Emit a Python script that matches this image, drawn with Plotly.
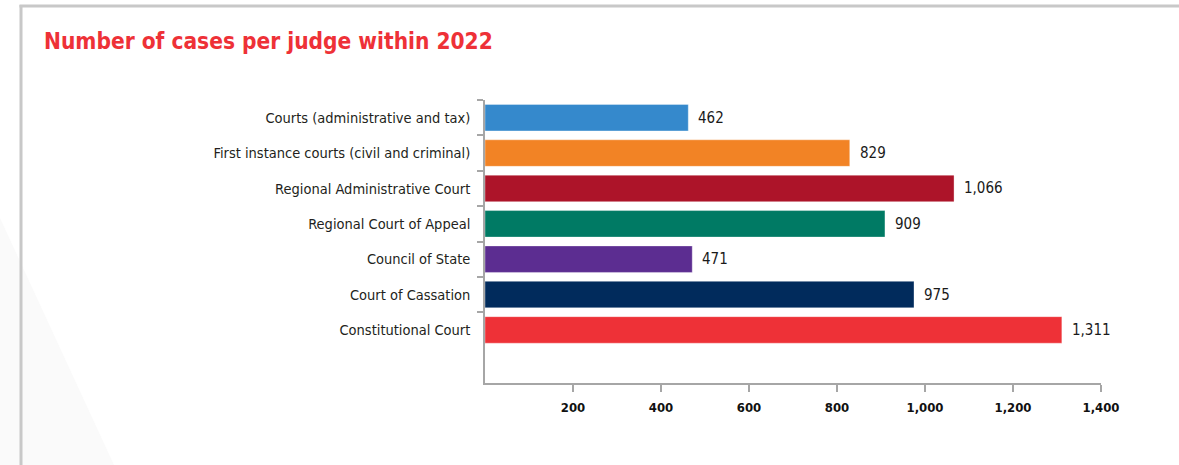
import plotly.graph_objects as go

categories = [
    "Courts (administrative and tax)",
    "First instance courts (civil and criminal)",
    "Regional Administrative Court",
    "Regional Court of Appeal",
    "Council of State",
    "Court of Cassation",
    "Constitutional Court",
]
values = [462, 829, 1066, 909, 471, 975, 1311]
colors = ["#3589CC", "#F28325", "#AD1429", "#007A64", "#5C2D91", "#012B5C", "#EE3137"]
x_ticks = [200, 400, 600, 800, 1000, 1200, 1400]
x_ticktext = ["200", "400", "600", "800", "1,000", "1,200", "1,400"]

FONT = "Liberation Sans Narrow, Arial Narrow, DejaVu Sans Condensed, Roboto Condensed, sans-serif"

W, H = 1179, 465
L, R, T, B = 485, 78, 100, 82
pw, ph = W - L - R, H - T - B


def px(x):
    return (x - L) / pw


def py(y):
    return (H - B - y) / ph


fig = go.Figure()
fig.add_trace(go.Bar(
    y=categories,
    x=values,
    orientation="h",
    marker=dict(color=colors, line=dict(color="rgba(255,255,255,0.35)", width=1)),
    width=0.75,
    hoverinfo="x+y",
))

annotations = []
for c, v in zip(categories, values):
    annotations.append(dict(
        x=v, y=c, xref="x", yref="y", text=f"{v:,}", showarrow=False,
        xanchor="left", xshift=8, yanchor="middle",
        font=dict(family=FONT, size=15, color="#1a1a1a"),
    ))

shapes = [
    # faint background triangle
    dict(type="path", xref="paper", yref="paper",
         path=f"M {px(0)} {py(218)} L {px(0)} {py(465)} L {px(114)} {py(465)} Z",
         fillcolor="#fafafa", line=dict(width=0), layer="below"),
    # frame top
    dict(type="line", xref="paper", yref="paper",
         x0=px(19.5), x1=px(1179), y0=py(6), y1=py(6),
         line=dict(color="#c8c8c8", width=3)),
    # frame left
    dict(type="line", xref="paper", yref="paper",
         x0=px(21), x1=px(21), y0=py(5), y1=py(465),
         line=dict(color="#c8c8c8", width=3)),
]

fig.update_layout(
    width=W, height=H,
    margin=dict(l=L, r=R, t=T, b=B, pad=0),
    paper_bgcolor="white", plot_bgcolor="white",
    showlegend=False,
    title=dict(
        text="<b>Number of cases per judge within 2022</b>",
        font=dict(family=FONT, size=22.5, color="#EE3137"),
        xref="container", yref="container",
        x=44 / W, xanchor="left", y=1 - 33 / H, yanchor="top",
    ),
    xaxis=dict(
        range=[0, 1400], tickvals=x_ticks, ticktext=x_ticktext,
        showgrid=False, zeroline=False,
        showline=True, linecolor="#a6a6a6", linewidth=1.5,
        ticks="outside", ticklen=7, tickcolor="#a6a6a6", tickwidth=1.5,
        tickfont=dict(family=FONT, size=13, color="#111111", weight="bold"),
        ticklabelstandoff=5,
    ),
    yaxis=dict(
        type="category", categoryorder="array", categoryarray=categories,
        range=[7.5, -0.5],
        showgrid=False, zeroline=False,
        showline=True, linecolor="#a6a6a6", linewidth=1.5,
        ticks="outside", tickson="boundaries", ticklen=6,
        tickcolor="#a6a6a6", tickwidth=1.5,
        tickfont=dict(family=FONT, size=14.5, color="#231F20"),
        ticklabelstandoff=10,
    ),
    annotations=annotations,
    shapes=shapes,
    bargap=0.25,
)

fig.write_html("out.html")
